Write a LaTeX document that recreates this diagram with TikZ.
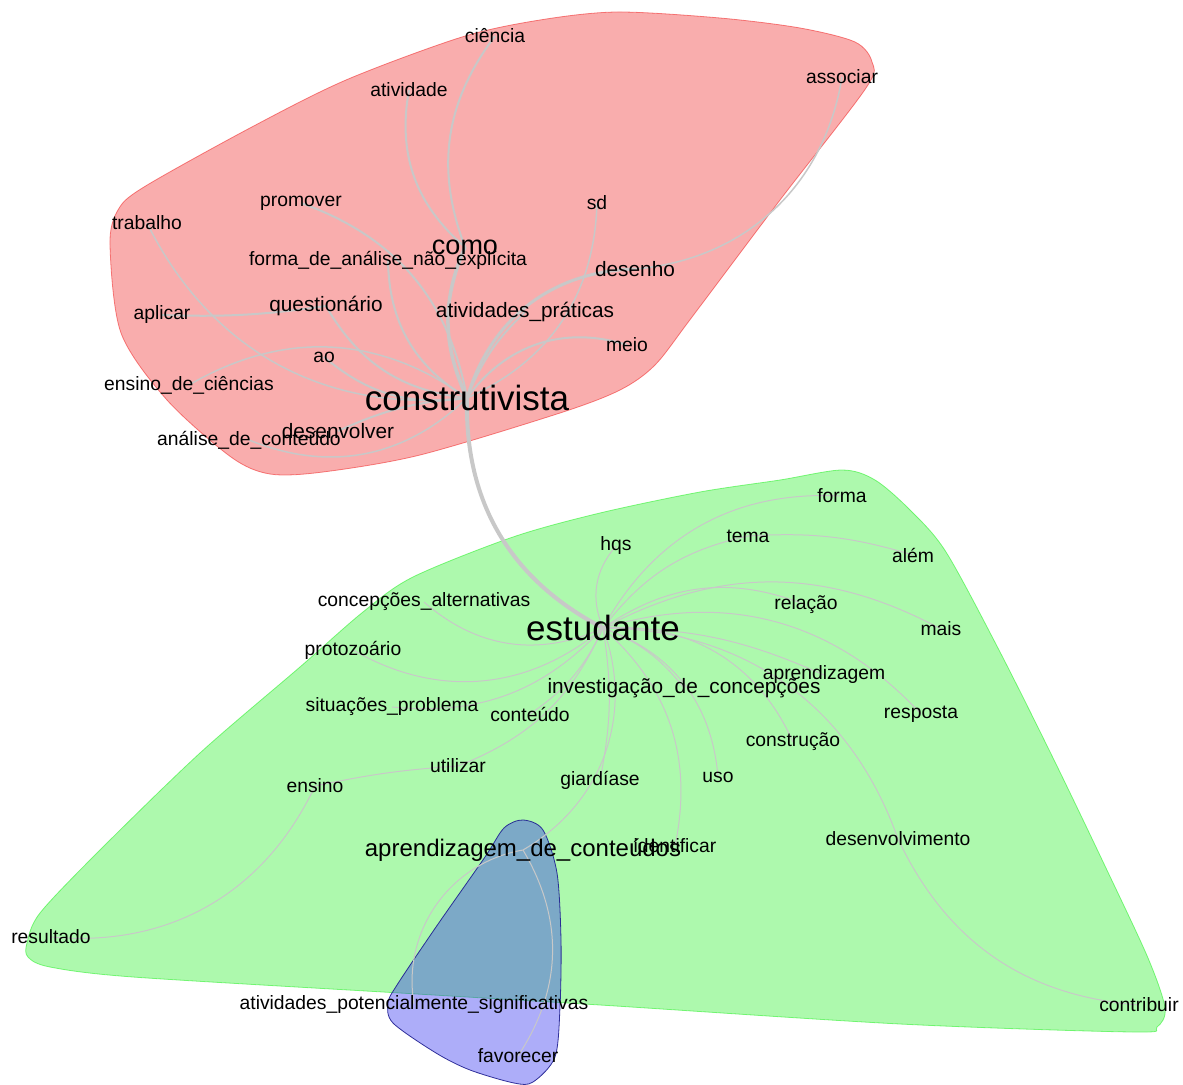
\documentclass[tikz,border=0pt]{standalone}
\usepackage{fontspec}
\setmainfont{Liberation Sans}
\definecolor{hullred}{RGB}{240,50,50}
\definecolor{hullgreen}{RGB}{50,240,50}
\definecolor{hullblue}{RGB}{50,50,240}
\definecolor{edgegray}{RGB}{200,200,200}
\pgfdeclarelayer{hulls}
\pgfdeclarelayer{edges}
\pgfsetlayers{hulls,edges,main}

\begin{document}
\begin{tikzpicture}[x=1pt, y=1pt,
    wd/.style={font=\fontsize{19.3}{20}\selectfont, inner sep=0pt},
    wdm/.style={font=\fontsize{20.8}{22}\selectfont, inner sep=0pt},
    hub/.style={font=\fontsize{35}{36}\selectfont, inner sep=0pt},
    lnk/.style={draw=edgegray, line width=#1},
    lnk/.default=1pt,
    hull/.style={line width=0.8pt, fill opacity=0.4, draw opacity=0.6}
  ]
  \useasboundingbox (0,0) rectangle (1183,-1084);

  % Cluster construtivista
  \node[wd] (cien) at (495,-36) {ciência};
  \node[wd] (ativ) at (409,-90) {atividade};
  \node[wd] (assoc) at (842,-77) {associar};
  \node[wd] (prom) at (301,-203) {promover};
  \node[wd] (sd) at (597,-203) {sd};
  \node[wd] (trab) at (147,-223) {trabalho};
  \node[font=\fontsize{27}{28}\selectfont, inner sep=0pt] (como) at (465,-247) {como};
  \node[wd] (forma) at (388,-260) {forma\_de\_análise\_não\_explícita};
  \node[wdm] (des) at (635,-269) {desenho};
  \node[wdm] (quest) at (326,-306) {questionário};
  \node[wd] (apl) at (162,-315) {aplicar};
  \node[wdm] (ativp) at (525,-312) {atividades\_práticas};
  \node[wd] (meio) at (627,-345) {meio};
  \node[wd] (ao) at (324,-357) {ao};
  \node[wd] (ensc) at (189,-385) {ensino\_de\_ciências};
  \node[hub] (cons) at (467,-398) {construtivista};
  \node[wd] (anal) at (249,-440) {análise\_de\_conteúdo};
  \node[wdm] (desv) at (338,-431) {desenvolver};

  % Cluster estudante
  \node[wd] (formg) at (842,-496) {forma};
  \node[wd] (tema) at (748,-536) {tema};
  \node[wd] (hqs) at (616,-546) {hqs};
  \node[wd] (alem) at (913,-555) {além};
  \node[wd] (conc) at (424,-602) {concepções\_alternativas};
  \node[wd] (rel) at (806,-605) {relação};
  \node[hub] (est) at (603,-628) {estudante};
  \node[wd] (mais) at (941,-629) {mais};
  \node[wd] (proto) at (353,-650) {protozoário};
  \node[wd] (aprz) at (824,-675) {aprendizagem};
  \node[wdm] (inv) at (684,-688) {investigação\_de\_concepções};
  \node[wd] (sit) at (392,-707) {situações\_problema};
  \node[wd] (cont) at (530,-714) {conteúdo};
  \node[wd] (resp) at (921,-714) {resposta};
  \node[wd] (constr) at (793,-742) {construção};
  \node[wd] (util) at (458,-766) {utilizar};
  \node[wd] (ens) at (315,-786) {ensino};
  \node[wd] (giar) at (600,-780) {giardíase};
  \node[wd] (uso) at (718,-777) {uso};
  \node[wd] (desvm) at (898,-839) {desenvolvimento};
  \node[font=\fontsize{24}{25}\selectfont, inner sep=0pt] (adc) at (523,-850) {aprendizagem\_de\_conteúdos};
  \node[wd] (ident) at (675,-846) {identificar};
  \node[wd] (res) at (51,-937) {resultado};
  \node[wd] (aps) at (414,-1004) {atividades\_potencialmente\_significativas};
  \node[wd] (contr) at (1139,-1005) {contribuir};
  \node[wd] (fav) at (518,-1056) {favorecer};

  % Hulls
  \begin{pgfonlayer}{hulls}
    \filldraw[hull, fill=hullred, draw=hullred] plot[smooth cycle, tension=0.5] coordinates {
      (617,-12) (720,-18) (800,-28) (855,-42) (872,-62) (866,-88) (780,-200)
      (692,-317) (655,-365) (620,-390) (560,-413) (420,-455) (323,-472)
      (270,-474) (231,-457) (167,-400) (121,-333) (110,-245) (118,-210)
      (144,-187) (250,-128) (346,-80) (462,-37) (540,-20)};
    \filldraw[hull, fill=hullgreen, draw=hullgreen] plot[smooth cycle, tension=0.5] coordinates {
      (413,-577) (513,-537) (600,-513) (700,-492) (780,-480) (842,-470)
      (875,-480) (910,-510) (946,-552) (1000,-652) (1055,-762) (1105,-866)
      (1148,-958) (1165,-1008) (1157,-1027) (1133,-1032)
      (900,-1024) (600,-1005) (400,-993) (133,-977) (50,-967) (28,-957)
      (27,-943) (40,-913) (100,-850) (200,-753) (300,-667) (363,-612)};
    \filldraw[hull, fill=hullblue, draw=hullblue!60!black, draw opacity=0.9] plot[smooth cycle, tension=0.5] coordinates {
      (523,-820) (543,-830) (557,-873) (561,-940) (560,-1007) (555,-1057)
      (533,-1082) (514,-1083) (470,-1070) (436,-1053) (393,-1023) (388,-1003)
      (397,-985) (436,-927) (485,-857) (504,-828)};
  \end{pgfonlayer}

  % Links
  \begin{pgfonlayer}{edges}
    \draw[lnk=4pt] (cons.center) to[bend right=32] (est.center);
    \draw[lnk=3.5pt] (cons.center) to[bend left=24] (como.center);
    \draw[lnk=2pt] (como.center) to[bend left=30] (ativ.center);
    \draw[lnk=2pt] (como.center) to[bend left=29] (cien.center);
    \draw[lnk=3pt] (cons.center) to[bend left=36] (des.center);
    \draw[lnk=1.5pt] (des.center) to[bend right=38] (assoc.center);
    \draw[lnk=1.5pt] (cons.center) to[bend right=32] (sd.center);
    \draw[lnk=2pt] (cons.center) to[bend left=12] (ativp.center);
    \draw[lnk=2pt] (cons.center) to[bend left=36] (meio.center);
    \draw[lnk=2pt] (cons.center) to[bend left=29] (forma.center);
    \draw[lnk=2pt] (cons.center) to[bend right=30] (prom.center);
    \draw[lnk=2pt] (cons.center) to[bend left=27] (quest.center);
    \draw[lnk=2pt] (quest.center) to[bend left=5] (apl.center);
    \draw[lnk=2pt] (cons.center) to[bend left=24] (ao.center);
    \draw[lnk=1.5pt] (cons.center) to[bend left=35] (trab.center);
    \draw[lnk=1.5pt] (cons.center) to[bend right=33] (ensc.center);
    \draw[lnk=2pt] (cons.center) to[bend right=10] (desv.center);
    \draw[lnk=1.5pt] (cons.center) to[bend left=33] (anal.center);

    \draw[lnk] (est.center) to[bend left=32] (hqs.center);
    \draw[lnk] (est.center) to[bend left=32] (formg.center);
    \draw[lnk] (est.center) to[bend left=20] (tema.center);
    \draw[lnk] (tema.center) to[bend left=10] (alem.center);
    \draw[lnk] (est.center) to[bend left=28] (rel.center);
    \draw[lnk] (est.center) to[bend left=28] (mais.center);
    \draw[lnk] (est.center) to[bend left=12] (aprz.center);
    \draw[lnk] (est.center) to[bend left=32] (resp.center);
    \draw[lnk] (est.center) to[bend left=35] (constr.center);
    \draw[lnk] (est.center) to[bend left=35] (desvm.center);
    \draw[lnk] (desvm.center) to[bend right=30] (contr.center);
    \draw[lnk] (est.center) to[bend left=33] (uso.center);
    \draw[lnk] (est.center) to[bend left=30] (ident.center);
    \draw[lnk] (est.center) to[bend left=10] (giar.center);
    \draw[lnk] (est.center) to[bend left=40] (adc.center);
    \draw[lnk] (adc.center) to[bend right=45] (aps.center);
    \draw[lnk] (adc.center) to[bend left=32] (fav.center);
    \draw[lnk] (est.center) to[bend left=15] (inv.center);
    \draw[lnk] (est.center) to[bend left=15] (cont.center);
    \draw[lnk] (est.center) to[bend left=22] (util.center);
    \draw[lnk] (util.center) to[bend right=4] (ens.center);
    \draw[lnk] (ens.center) to[bend left=35] (res.center);
    \draw[lnk] (est.center) to[bend left=26] (sit.center);
    \draw[lnk] (est.center) to[bend left=35] (proto.center);
    \draw[lnk] (est.center) to[bend left=33] (conc.center);
  \end{pgfonlayer}
\end{tikzpicture}
\end{document}
